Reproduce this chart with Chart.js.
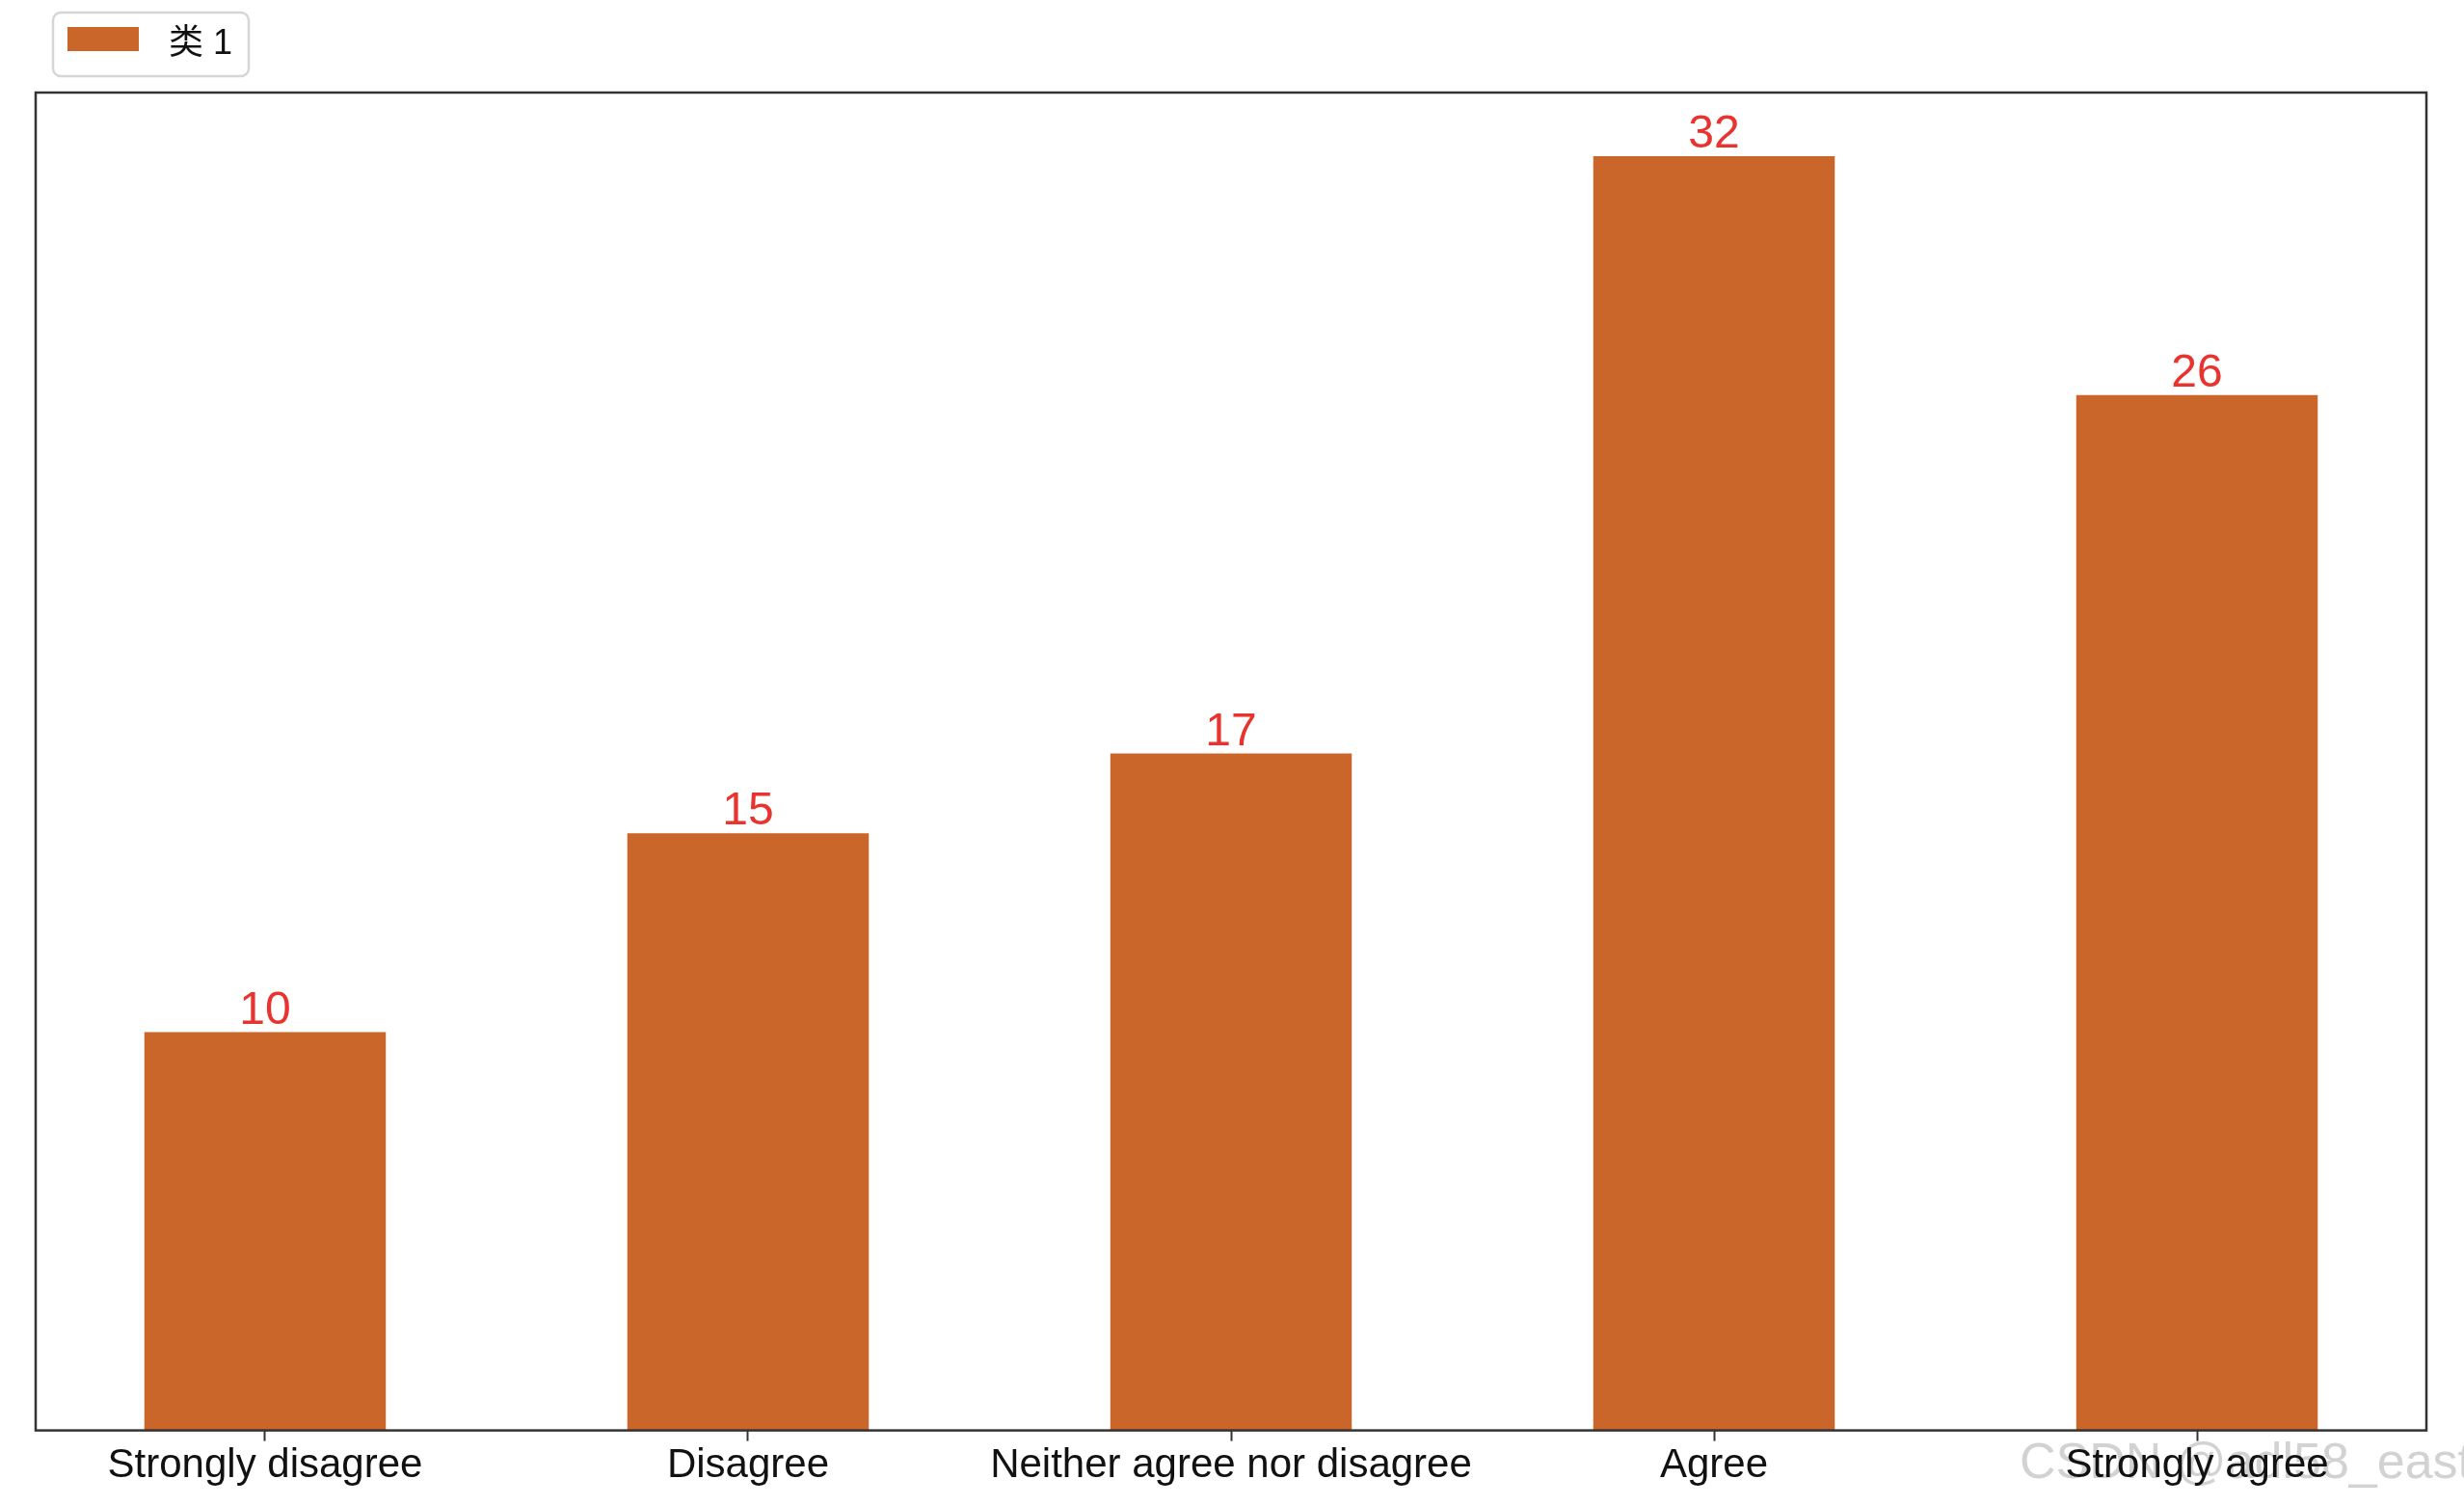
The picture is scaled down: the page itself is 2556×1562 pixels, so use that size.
<!DOCTYPE html>
<html lang="zh">
<head>
    <meta charset="UTF-8">
    <script src="https://cdn.jsdelivr.net/npm/chart.js"></script>
    <title>Bar chart</title>
    <style>
        body { margin: 0; background: #fff; }
        canvas { display: block; }
    </style>
</head>
<body>
    <canvas id="barChart" width="2556" height="1562"></canvas>

    <script>
    const categories = ['Strongly disagree', 'Disagree', 'Neither agree nor disagree', 'Agree', 'Strongly agree'];
    const counts = [10, 15, 17, 32, 26];
    const seriesName = '类 1';
    const barColor = '#ca6629';
    const fontFamily = '"Liberation Sans", Arial, "Noto Sans CJK SC", sans-serif';

    // matplotlib-like frame, value labels, legend box and watermark
    const extras = {
        id: 'extras',
        beforeDraw(chart) {
            const ctx = chart.ctx;
            ctx.save();
            ctx.fillStyle = '#fff';
            ctx.fillRect(0, 0, chart.width, chart.height);
            ctx.font = '52px ' + fontFamily;
            ctx.fillStyle = '#d2d2d2';
            ctx.textAlign = 'left';
            ctx.textBaseline = 'alphabetic';
            ctx.fillText('CSDN @adl58_east', 2095, 1533);
            ctx.restore();
        },
        afterDatasetsDraw(chart) {
            const ctx = chart.ctx;
            const a = chart.chartArea;
            ctx.save();
            ctx.strokeStyle = '#333';
            ctx.lineWidth = 2.5;
            ctx.strokeRect(a.left, a.top, a.right - a.left, a.bottom - a.top);

            ctx.font = '48px ' + fontFamily;
            ctx.fillStyle = '#e8332e';
            ctx.textAlign = 'center';
            ctx.textBaseline = 'alphabetic';
            chart.getDatasetMeta(0).data.forEach((bar, i) => {
                ctx.fillText(String(counts[i]), bar.x, bar.y - 9);
            });
            ctx.restore();
        },
        afterDraw(chart) {
            const ctx = chart.ctx;
            const ds = chart.data.datasets[0];
            ctx.save();
            ctx.strokeStyle = '#d6d6d6';
            ctx.lineWidth = 2.5;
            ctx.fillStyle = '#fff';
            ctx.beginPath();
            ctx.roundRect(55, 13, 203, 66, 8);
            ctx.fill();
            ctx.stroke();
            ctx.fillStyle = ds.backgroundColor;
            ctx.fillRect(70, 28, 74, 25);
            ctx.font = '36px ' + fontFamily;
            ctx.fillStyle = '#111';
            ctx.textAlign = 'left';
            ctx.textBaseline = 'alphabetic';
            ctx.fillText(ds.label, 175, 56);
            ctx.restore();
        }
    };

    const ctx = document.getElementById('barChart');

    new Chart(ctx, {
        type: 'bar',
        data: {
            datasets: [{
                label: seriesName,
                data: counts.map((v, i) => ({x: i, y: v})),
                backgroundColor: barColor,
                borderWidth: 0,
                barPercentage: 0.5,
                categoryPercentage: 1.0
            }]
        },
        options: {
            responsive: false,
            animation: false,
            layout: {
                padding: {left: 37, right: 39, top: 96, bottom: 15}
            },
            plugins: {
                legend: { display: false },
                tooltip: { enabled: false }
            },
            scales: {
                x: {
                    type: 'linear',
                    min: -0.475,
                    max: 4.475,
                    offset: false,
                    border: { display: false },
                    grid: {
                        display: true,
                        offset: false,
                        drawOnChartArea: false,
                        drawTicks: true,
                        tickLength: 11,
                        tickColor: '#333',
                        tickWidth: 2
                    },
                    ticks: {
                        stepSize: 1,
                        includeBounds: false,
                        autoSkip: false,
                        maxRotation: 0,
                        padding: 1,
                        color: '#111',
                        font: { family: fontFamily, size: 42 },
                        callback: (value) => Number.isInteger(value) ? categories[value] : ''
                    }
                },
                y: {
                    display: false,
                    min: 0,
                    max: 33.6
                }
            }
        },
        plugins: [extras]
    });
    </script>
</body>
</html>
